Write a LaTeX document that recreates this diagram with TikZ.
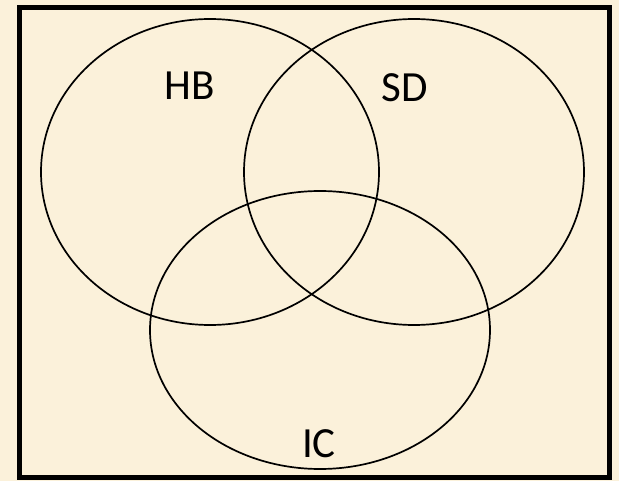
\documentclass[tikz,border=0pt]{standalone}
\usepackage{fontspec}
\setmainfont{Carlito}
\usetikzlibrary{shapes.geometric}
\definecolor{parch}{RGB}{251,241,218}
\begin{document}
\begin{tikzpicture}[x=1pt,y=-1pt,
  setov/.style={draw=black,line width=1.7pt,ellipse,inner sep=0pt,minimum width=#1},
  lbl/.style={anchor=base,font=\fontsize{43}{50}\selectfont,inner sep=0pt}]
\fill[parch] (0,0) rectangle (619,481);
\useasboundingbox (0,0) rectangle (619,481);
\draw[line width=5.5pt] (19.5,7.5) rectangle (609.5,477.5);
\node[setov=338pt,minimum height=306pt] (hb) at (210,172) {};
\node[setov=340pt,minimum height=306pt] (sd) at (414,172) {};
\node[setov=340pt,minimum height=278pt] (ic) at (320,330) {};
\node[lbl] (thb) at (190,100) {HB};
\node[lbl] (tsd) at (405,102) {SD};
\node[lbl] (tic) at (319,457) {IC};
\end{tikzpicture}
\end{document}
